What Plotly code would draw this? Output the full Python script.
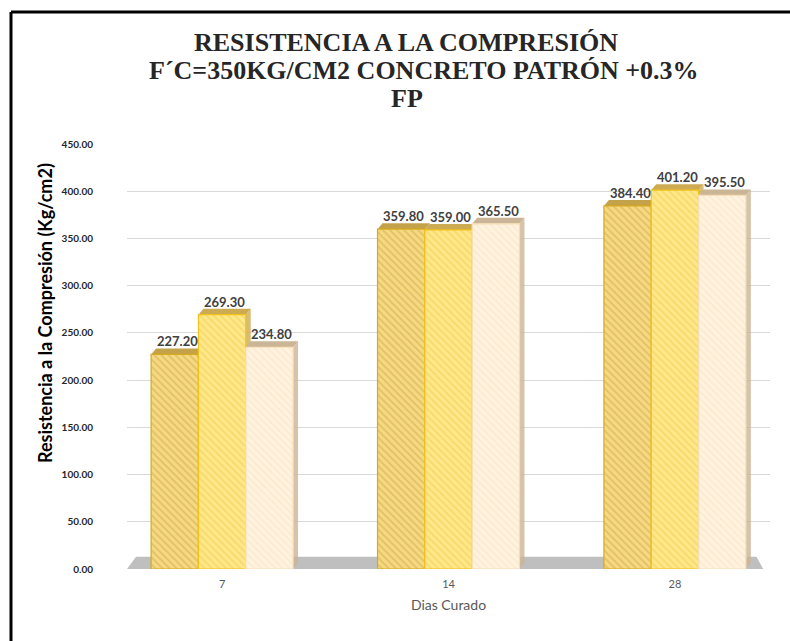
import plotly.graph_objects as go

categories = ["7", "14", "28"]
serie_1 = [227.20, 359.80, 384.40]
serie_2 = [269.30, 359.00, 401.20]
serie_3 = [234.80, 365.50, 395.50]
y_ticks = [0, 50, 100, 150, 200, 250, 300, 350, 400, 450]
title_lines = ["RESISTENCIA A LA COMPRESIÓN", "F´C=350KG/CM2 CONCRETO PATRÓN +0.3%", "FP"]

series = [serie_1, serie_2, serie_3]
fills = ["#F5D985", "#FFE88A", "#FFF3DF"]
hatch = ["#D2AA3E", "#F0C94E", "#F5E2C2"]
borders = ["#D6A91E", "#F2C21A", "#F7DDB5"]
tops = ["#C4A24A", "#CDAB52", "#CAB596"]

BARGAP = 0.373
W = (1 - BARGAP) / 3
DX = 0.022   # 3D depth offset (x, category units)
DV = 6.3     # 3D depth offset (y, value units)

L, R, T, B = 127, 20, 144, 72
PW, PH = 790 - L - R, 641 - T - B


def px_x(p):
    return (p - L) / PW


def px_y(p):
    return (641 - B - p) / PH


fig = go.Figure()
for i, vals in enumerate(series):
    fig.add_trace(go.Bar(
        x=categories, y=vals,
        marker=dict(color=fills[i],
                    pattern=dict(shape="\\", fgcolor=hatch[i], bgcolor=fills[i], size=5, solidity=0.35),
                    line=dict(color=borders[i], width=1.2)),
        showlegend=False, hoverinfo="skip"))

shapes = []
annotations = []
# floor
shapes.append(dict(type="path", xref="x", yref="y", layer="between",
                   path="M -0.42 0 L -0.38 13 L 2.36 13 L 2.39 0 Z",
                   fillcolor="#BFBFBF", line=dict(width=0)))
for i, vals in enumerate(series):
    for k, v in enumerate(vals):
        x0 = k + (i - 1.5) * W
        x1 = x0 + W
        shapes.append(dict(type="path", xref="x", yref="y", layer="between",
                           path=f"M {x0} {v} L {x0+DX} {v+DV} L {x1+DX} {v+DV} L {x1} {v} Z",
                           fillcolor=tops[i], line=dict(width=0)))
        shapes.append(dict(type="path", xref="x", yref="y", layer="between",
                           path=f"M {x1} 0 L {x1} {v} L {x1+DX} {v+DV} L {x1+DX} {DV} Z",
                           fillcolor=tops[i], line=dict(width=0), opacity=0.8))
        annotations.append(dict(x=k + (i - 1) * W + DX / 2, y=v, xref="x", yref="y",
                                text=f"{v:.2f}", showarrow=False, yanchor="bottom", yshift=3,
                                font=dict(family="Lato", size=13, color="#404040", weight="bold")))

# frame (black border top and left)
shapes.append(dict(type="line", xref="paper", yref="paper", x0=px_x(11), x1=px_x(11), y0=px_y(700), y1=px_y(12),
                   line=dict(color="black", width=3)))
shapes.append(dict(type="line", xref="paper", yref="paper", x0=px_x(11), x1=px_x(800), y0=px_y(12), y1=px_y(12),
                   line=dict(color="black", width=3)))

# title lines
for text, cx, cy in zip(title_lines, [406, 424, 407], [42, 70, 98]):
    annotations.append(dict(text=text, showarrow=False, xref="paper", yref="paper",
                            x=px_x(cx), y=px_y(cy), xanchor="center", yanchor="middle",
                            font=dict(family="Liberation Serif", size=26, color="#262626", weight="bold")))

annotations.append(dict(text="Resistencia a la Compresión (Kg/cm2)", textangle=-90, showarrow=False,
                        xref="paper", yref="paper", x=px_x(45), y=px_y(313),
                        xanchor="center", yanchor="middle",
                        font=dict(family="Lato", size=18, color="black", weight="bold")))

fig.update_layout(
    width=790, height=641,
    margin=dict(l=L, r=R, t=T, b=B),
    paper_bgcolor="white", plot_bgcolor="white",
    barmode="group", bargap=BARGAP, bargroupgap=0,
    xaxis=dict(type="category", range=[-0.42, 2.42], showgrid=False, zeroline=False, showline=False,
               ticks="", ticklabelstandoff=7, tickfont=dict(family="Lato", size=11, color="#595959"),
               title=dict(text="Dias Curado", standoff=11,
                          font=dict(family="Lato", size=14, color="#595959"))),
    yaxis=dict(range=[0, 450], tickvals=y_ticks, tickformat=".2f", showgrid=True,
               gridcolor="#D9D9D9", gridwidth=1, zeroline=False, showline=False, ticks="",
               ticklabelstandoff=33,
               tickfont=dict(family="Lato", size=10, color="#262626", weight="bold")),
    shapes=shapes, annotations=annotations,
)

fig.write_html("out.html", config={"displayModeBar": False},
               post_script="document.body.style.margin='0';")
